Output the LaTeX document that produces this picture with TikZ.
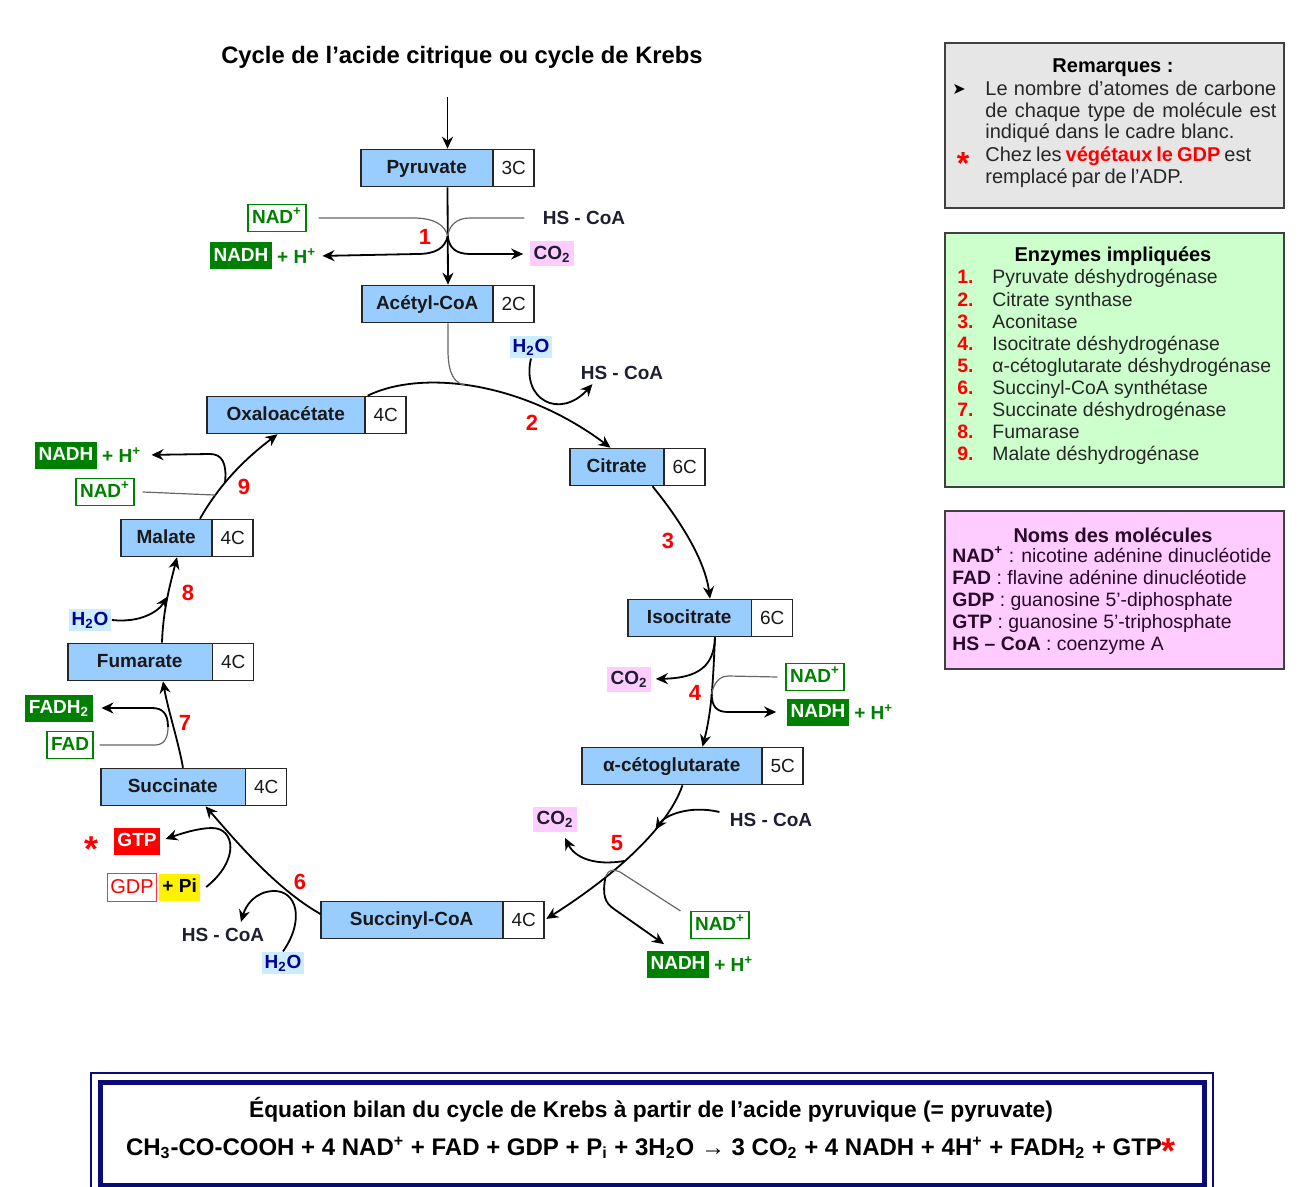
\documentclass[tikz,border=0pt]{standalone}
\usepackage{fontspec}
\setmainfont{Liberation Sans}
\newfontfamily\symfont{DejaVu Sans}
\usetikzlibrary{arrows.meta,positioning,shapes.multipart,calc}
\definecolor{molblue}{RGB}{153,204,255}
\definecolor{nadgreen}{RGB}{0,128,0}
\definecolor{co2pink}{RGB}{255,204,255}
\definecolor{waterbg}{RGB}{204,236,255}
\definecolor{waterblue}{RGB}{0,0,150}
\definecolor{coatext}{RGB}{30,30,50}
\definecolor{remgray}{RGB}{230,230,230}
\definecolor{enzgreen}{RGB}{204,255,204}
\definecolor{nompink}{RGB}{255,204,255}
\definecolor{nomtext}{RGB}{40,10,40}
\definecolor{framenavy}{RGB}{10,10,120}
\newcommand{\lab}{\bfseries\fontsize{9.5}{11}\selectfont}
\newcommand{\molc}[3]{\makebox[#1]{#2}\nodepart{two}\makebox[16pt]{\mdseries #3}}

\begin{document}
\begin{tikzpicture}[x=0.5pt,y=-0.5pt,
  mol/.style={rectangle split, rectangle split horizontal, rectangle split parts=2,
    rectangle split part fill={molblue,white}, draw=black!85, line width=0.8pt,
    inner xsep=2pt, inner ysep=4pt, text height=8pt, text depth=2.5pt,
    text=black!90, font=\lab},
  arr/.style={-{Stealth[length=6pt,width=5.5pt]}, line width=0.9pt},
  feed/.style={draw=black!60, line width=0.6pt},
  nadin/.style={draw=nadgreen, fill=white, text=nadgreen, font=\lab, line width=0.6pt,
    inner xsep=2pt, inner ysep=2.5pt, text height=7pt, text depth=1.5pt},
  nadout/.style={fill=nadgreen, text=white, font=\lab,
    inner xsep=2pt, inner ysep=2.5pt, text height=7pt, text depth=1.5pt},
  hplus/.style={text=nadgreen, font=\lab, inner sep=1pt},
  co2/.style={fill=co2pink, text=coatext, font=\lab, inner sep=2pt, text height=7pt, text depth=1.5pt},
  water/.style={fill=waterbg, text=waterblue, font=\lab, inner sep=1.5pt},
  coa/.style={text=coatext, font=\lab, inner sep=1pt},
  num/.style={text=red, font=\bfseries\fontsize{11}{13}\selectfont},
  panel/.style={draw=black!75, line width=0.9pt, anchor=north west}]
\useasboundingbox (0,0) rectangle (1300,1187);
\clip (0,0) rectangle (1300,1187);

\node[font=\bfseries\fontsize{11.9}{14}\selectfont] (title) at (462,57) {Cycle de l’acide citrique ou cycle de Krebs};

% molecules
\node[mol] (pyr)  at (447.5,168) {\molc{61.5pt}{Pyruvate}{3C}};
\node[mol] (ace)  at (448,304)   {\molc{61pt}{Acétyl-CoA}{2C}};
\node[mol] (oxa)  at (306.5,415) {\molc{74.5pt}{Oxaloacétate}{4C}};
\node[mol] (cit)  at (637.5,467) {\molc{42.5pt}{Citrate}{6C}};
\node[mol] (iso)  at (710,618)   {\molc{57.5pt}{Isocitrate}{6C}};
\node[mol] (akg)  at (692.5,766) {\molc{85.5pt}{α-cétoglutarate}{5C}};
\node[mol] (scoa) at (432.5,920) {\molc{86.5pt}{Succinyl-CoA}{4C}};
\node[mol] (suc)  at (193.5,787) {\molc{68pt}{Succinate}{4C}};
\node[mol] (fum)  at (160.5,662) {\molc{68pt}{Fumarate}{4C}};
\node[mol] (mal)  at (187,538)   {\molc{41pt}{Malate}{4C}};

% 1
\coordinate (entry) at (447.5,97);
\draw[arr] (entry) -- (pyr.north);
\draw[arr] (pyr.south) -- (ace.north) coordinate[pos=0.5] (r1);
\node[nadin] (nadA) at (277,218) {NAD\textsuperscript{+}};
\node[nadout] (nadhA) at (241,256) {NADH};
\node[hplus, right=1pt of nadhA] (hA) {+ H\textsuperscript{+}};
\node[coa] (hsA) at (584,218) {HS - CoA};
\node[co2] (co2A) at (552,254) {CO\textsubscript{2}};
\draw[feed] ([xshift=6pt]nadA.east) -- (413,218) .. controls (436,218) and (445,226) .. (r1);
\draw[arr, shorten >=2pt] (r1) .. controls (445,248) and (436,254) .. (417,254) -- (hA.east);
\draw[feed] ([xshift=-8pt]hsA.west) -- (470,218) .. controls (456,218) and (449,226) .. (r1);
\draw[arr, shorten >=3pt] (r1) .. controls (449,248) and (456,254) .. (470,254) -- (co2A.west);
\node[num] at (425,237) {1};

% 2
\draw[arr] ([xshift=-19.5pt]oxa.north east) .. controls (420,370) and (520,380) .. ([xshift=-13.5pt]cit.north)
  coordinate[pos=0.46] (r2);
\draw[feed] (ace.south) -- (448,350) .. controls (448,375) and (455,383) .. (r2);
\node[water] (h2oB) at (531,347) {H\textsubscript{2}O};
\node[coa] (hsB) at (622,373) {HS - CoA};
\draw[arr] (h2oB.south) .. controls (521,400) and (560,420) .. ([shift={(7pt,-1pt)}]hsB.south west);
\node[num] at (532,423) {2};

% 3
\draw[arr] ([xshift=7.5pt]cit.south) .. controls (680,520) and (705,560) .. (iso.north);
\node[num] at (668,541) {3};

% 4
\draw[arr] ([xshift=2.5pt]iso.south) .. controls (713,680) and (712,710) .. ([xshift=5pt]akg.north)
  coordinate[pos=0.5] (r4);
\node[co2] (co2C) at (629,679) {CO\textsubscript{2}};
\node[nadin] (nadC) at (815,677) {NAD\textsuperscript{+}};
\node[nadout] (nadhC) at (818,712) {NADH};
\node[hplus, right=1pt of nadhC] (hC) {+ H\textsuperscript{+}};
\draw[arr, shorten >=2pt] ([xshift=2.5pt]iso.south) .. controls (714,665) and (700,678) .. (co2C.east);
\draw[feed] ([xshift=-4pt]nadC.west) -- (728,676) .. controls (714,676) and (r4) .. (r4);
\draw[arr] (r4) .. controls (712,706) and (716,712) .. (728,712) -- ([xshift=-5pt]nadhC.west);
\node[num] at (695,693) {4};

% 5
\draw[arr, shorten >=1pt] ([xshift=-5pt]akg.south) .. controls (665,835) and (600,885) .. (scoa.east)
  coordinate[pos=0.3] (r5a) coordinate[pos=0.52] (r5b) coordinate[pos=0.64] (r5c);
\node[coa] (hsD) at (771,820) {HS - CoA};
\node[co2] (co2D) at (555,819) {CO\textsubscript{2}};
\node[nadin] (nadD) at (720,925) {NAD\textsuperscript{+}};
\node[nadout] (nadhD) at (678,964) {NADH};
\node[hplus, right=1pt of nadhD] (hD) {+ H\textsuperscript{+}};
\draw[arr] ([shift={(-4pt,4pt)}]hsD.west) .. controls (690,805) and (665,815) .. (r5a);
\draw[arr] (r5b) .. controls (595,866) and (575,858) .. ([shift={(5pt,-3pt)}]co2D.south);
\draw[feed] ([xshift=-5pt]nadD.north west) -- (620,872) .. controls (608,866) and (r5c) .. (r5c);
\draw[arr] (r5c) .. controls (602,895) and (605,903) .. (614,909) -- ([shift={(-7pt,3pt)}]nadhD.north);
\node[num] at (617,843) {5};

% 6
\draw[arr] ([yshift=3pt]scoa.west) .. controls (275,888) and (235,840) .. ([xshift=6pt]suc.south);
\node[fill=red, text=white, font=\lab, inner xsep=1.5pt, inner ysep=2.5pt, text height=7pt, text depth=1.5pt] (gtpE) at (137,841) {GTP};
\node[text=red, font=\bfseries\fontsize{18}{18}\selectfont] (starE) at (92,849) {*};
\node[draw=red!80, fill=white, text=red, font=\fontsize{10}{11}\selectfont, inner xsep=1.5pt, inner ysep=2.5pt, text height=7.5pt, text depth=1.5pt] (gdpE) at (132,887) {GDP};
\node[fill=yellow, font=\lab, inner xsep=1.5pt, inner ysep=2.5pt, text height=7pt, text depth=1.5pt, right=1pt of gdpE] (piE) {+ Pi};
\draw[arr, shorten >=3pt] ([xshift=3pt]piE.east) .. controls (240,860) and (235,828) .. (212,828)
  .. controls (198,828) and (180,834) .. (gtpE.east);
\node[coa] (hsE) at (223,935) {HS - CoA};
\node[water] (h2oE) at (283,963) {H\textsubscript{2}O};
\draw[arr] (h2oE.north) .. controls (305,920) and (297,890) .. (273,891)
  .. controls (255,892) and (246,905) .. ([shift={(9pt,2pt)}]hsE.north);
\node[num] at (300,882) {6};

% 7
\draw[arr] ([xshift=-5.25pt]suc.north) .. controls (178,740) and (168,710) .. ([xshift=1.25pt]fum.south);
\node[nadout] (fadhF) at (59,708) {FADH\textsubscript{2}};
\node[nadin] (fadF) at (70,745) {FAD};
\draw[feed] ([xshift=3pt]fadF.east) -- (155,745) .. controls (166,745) and (168,735) .. (168,727) coordinate (r7);
\draw[arr, shorten >=4pt] (r7) .. controls (168,714) and (163,708) .. (152,708) -- (fadhF.east);
\node[num] at (185,723) {7};

% 8
\draw[arr] ([xshift=0.75pt]fum.north) .. controls (163,610) and (170,585) .. ([xshift=-5pt]mal.south)
  coordinate[pos=0.52] (r8);
\node[water] (h2oF) at (90,620) {H\textsubscript{2}O};
\draw[arr] (h2oF.east) .. controls (140,623) and (158,612) .. (r8);
\node[num] at (188,593) {8};

% 9
\draw[arr] ([xshift=6.5pt]mal.north) .. controls (222,480) and (250,455) .. ([xshift=-14.5pt]oxa.south)
  coordinate[pos=0.22] (r9a) coordinate[pos=0.35] (r9b);
\node[nadout] (nadhG) at (66,455) {NADH};
\node[hplus, right=1pt of nadhG] (hG) {+ H\textsuperscript{+}};
\node[nadin] (nadG) at (105,492) {NAD\textsuperscript{+}};
\draw[feed] ([xshift=4pt]nadG.east) -- (r9a);
\draw[arr, shorten >=4pt] (r9b) .. controls (227,463) and (222,454) .. (210,454) -- (hG.east);
\node[num] at (244,487) {9};

% remarques
\node[panel, fill=remgray, minimum width=169.5pt, minimum height=82.5pt] (rem) at (944,42) {};
\node[font=\bfseries\fontsize{10}{12}\selectfont] at (1113,68) {Remarques :};
\node[font=\symfont\fontsize{8}{8}\selectfont] at (959,89) {➤};
\node[text width=145.5pt, align=justify, anchor=north west, inner sep=0pt, text=black!85,
  font=\fontsize{10}{10.75}\selectfont] at (985,81)
  {Le nombre d'atomes de carbone\linebreak de chaque type de molécule est\linebreak indiqué dans le cadre blanc.};
\node[text=red, font=\bfseries\fontsize{16}{16}\selectfont] at (963,163) {*};
\node[text width=145.5pt, align=left, anchor=north west, inner sep=0pt, text=black!85,
  font=\fontsize{10}{11.2}\selectfont] at (985,146)
  {\spaceskip=0.2em\relax Chez les \textcolor{red}{\bfseries végétaux le GDP} est\\remplacé par de l'ADP.};

% enzymes
\node[panel, fill=enzgreen, minimum width=169.5pt, minimum height=127pt] (enz) at (944,232) {};
\node[font=\bfseries\fontsize{10}{12}\selectfont] at (1113,256) {Enzymes impliquées};
\foreach \i/\name in {1/Pyruvate déshydrogénase, 2/Citrate synthase, 3/Aconitase,
    4/Isocitrate déshydrogénase, 5/α-cétoglutarate déshydrogénase, 6/Succinyl-CoA synthétase,
    7/Succinate déshydrogénase, 8/Fumarase, 9/Malate déshydrogénase} {
  \pgfmathsetmacro\yy{284+(\i-1)*22.1}
  \node[anchor=base west, inner sep=0pt, text=red, font=\bfseries\fontsize{9.7}{11}\selectfont] at (957,\yy) {\i.};
  \node[anchor=base west, inner sep=0pt, text=black!85, font=\fontsize{9.7}{11}\selectfont] at (992,\yy) {\name};
}

% noms
\node[panel, fill=nompink, minimum width=169.5pt, minimum height=79pt] (nom) at (944,510) {};
\node[font=\bfseries\fontsize{10}{12}\selectfont, text=nomtext] at (1113,535) {Noms des molécules};
\foreach \i/\abbr/\desc in {1/NAD\textsuperscript{+}/nicotine adénine dinucléotide,
    2/FAD/flavine adénine dinucléotide, 3/GDP/guanosine 5'-diphosphate,
    4/GTP/guanosine 5'-triphosphate, 5/HS – CoA/coenzyme A} {
  \pgfmathsetmacro\yy{562+(\i-1)*22}
  \node[anchor=base west, inner sep=0pt, text=nomtext, font=\fontsize{9.7}{11}\selectfont] at (952,\yy) {\textbf{\abbr} : \desc};
}

% equation
\draw[framenavy, line width=0.8pt] (91,1073) rectangle (1213,1200);
\draw[framenavy, line width=2.5pt] (100,1082) rectangle (1204,1185);
\node[font=\bfseries\fontsize{11.4}{13}\selectfont] (eqa) at (651,1110)
  {Équation bilan du cycle de Krebs à partir de l’acide pyruvique (= pyruvate)};
\node[font=\bfseries\fontsize{12}{14}\selectfont] (eqb) at (651,1150)
  {CH\textsubscript{3}-CO-COOH + 4 NAD\textsuperscript{+} + FAD + GDP + P\textsubscript{i} + 3H\textsubscript{2}O → 3 CO\textsubscript{2} + 4 NADH + 4H\textsuperscript{+} + FADH\textsubscript{2} + GTP\textcolor{red}{\raisebox{-4pt}{\fontsize{18}{18}\selectfont *}}};
\end{tikzpicture}
\end{document}
